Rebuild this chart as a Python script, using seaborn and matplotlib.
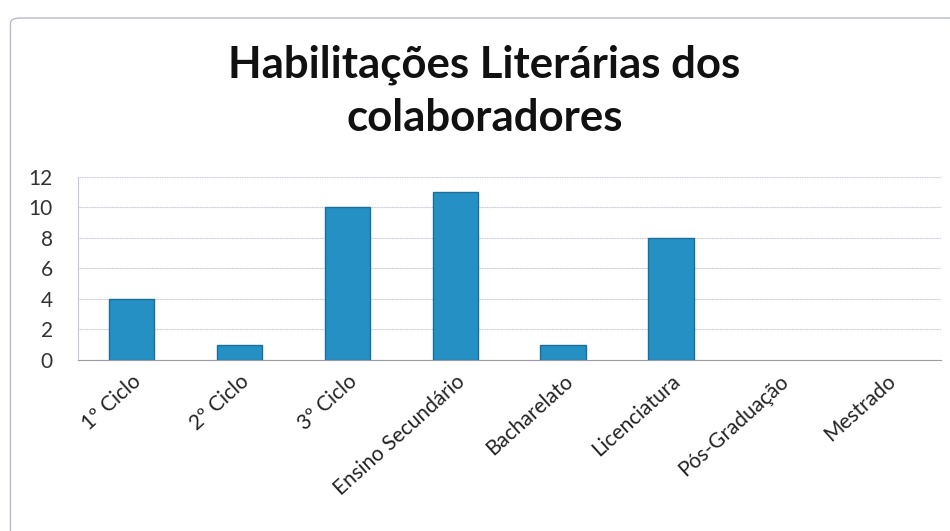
import matplotlib.pyplot as plt
import seaborn as sns
import pandas as pd
from matplotlib.patches import FancyBboxPatch

# dados
categorias = ['1º Ciclo', '2º Ciclo', '3º Ciclo', 'Ensino Secundário',
              'Bacharelato', 'Licenciatura', 'Pós-Graduação', 'Mestrado']
valores = [4, 1, 10, 11, 1, 8, 0, 0]
y_ticks = [0, 2, 4, 6, 8, 10, 12]

sns.set_style('white')
plt.rcParams['font.family'] = ['Lato', 'DejaVu Sans']

df = pd.DataFrame({'cat': categorias, 'val': valores})

fig = plt.figure(figsize=(9.5, 5.31), dpi=100)
# moldura do gráfico
fig.patches.append(FancyBboxPatch((0.011, -0.05), 1.05, 1.016,
                                  boxstyle='round,pad=0,rounding_size=0.01',
                                  transform=fig.transFigure, fill=False,
                                  edgecolor='#b8b8d0', linewidth=1.0))

ax = fig.add_axes([0.082, 0.322, 0.908, 0.345])
sns.barplot(data=df, x='cat', y='val', ax=ax, color='#2590c4', width=0.42,
            edgecolor='#1b6f99', linewidth=1.0, saturation=1)
# barras com valor zero não mostram contorno
for p in ax.patches:
    if p.get_height() == 0:
        p.set_linewidth(0)

ax.set_ylim(0, 12)
ax.set_yticks(y_ticks)
ax.yaxis.grid(True, color='#c8c8dc', linewidth=0.8, linestyle=(0, (1, 0.5)))
ax.set_axisbelow(True)
for s in ['top', 'right']:
    ax.spines[s].set_visible(False)
ax.spines['left'].set_color('#c8c8dc')
ax.spines['bottom'].set_color('#9a9aa8')
ax.set_xlabel('')
ax.set_ylabel('')
ax.tick_params(axis='y', labelsize=15, colors='#333333', length=0, pad=18)
ax.tick_params(axis='x', labelsize=15, colors='#222222', length=0, pad=8)
plt.setp(ax.get_xticklabels(), rotation=42, ha='right', rotation_mode='anchor')
ax.set_xlim(-0.5, 7.5)

fig.text(0.51, 0.828, 'Habilitações Literárias dos\ncolaboradores', ha='center',
         va='center', fontsize=31.5, fontweight='bold', linespacing=1.4, color='#111111')

fig.savefig('out.png', dpi=100)
